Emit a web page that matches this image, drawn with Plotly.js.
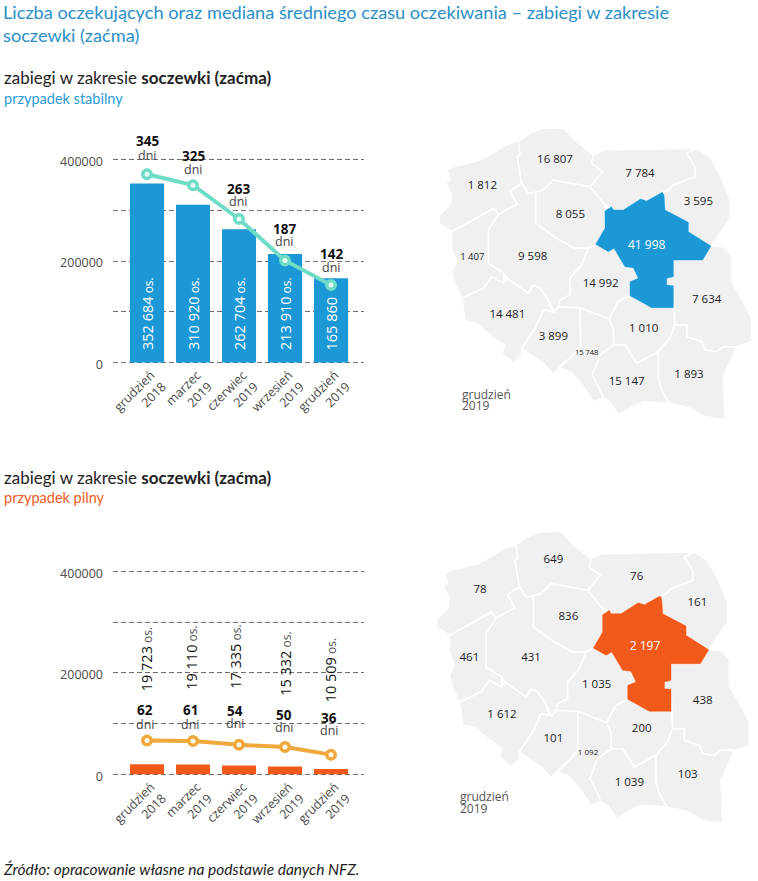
<!DOCTYPE html>
<html><head><meta charset="utf-8">
<script src="https://cdn.plot.ly/plotly-3.0.1.min.js"></script>
<style>html,body{margin:0;padding:0;background:#fff}</style></head>
<body><div id="chart" style="width:758px;height:881px"></div>
<script>
// ---- data ----
const categories = ['grudzień<br>2018','marzec<br>2019','czerwiec<br>2019','wrzesień<br>2019','grudzień<br>2019'];
const stablePeople = [352684,310920,262704,213910,165860];
const stableDays = [345,325,263,187,142];
const urgentPeople = [19723,19110,17335,15332,10509];
const urgentDays = [62,61,54,50,36];
const stablePeopleText = ['352 684','310 920','262 704','213 910','165 860'];
const stablePeopleUnit = [' os.',' os.',' os.',' os.',''];
const urgentPeopleText = ['19 723','19 110','17 335','15 332','10 509'];
const yTicks = [0,100000,200000,300000,400000];
const yTickText = ['0','','200000','','400000'];

const regionNames = ['zachodniopomorskie','pomorskie','warminsko','podlaskie','kujawsko','wielkopolskie','lubuskie','dolnoslaskie','opolskie','lodzkie','slaskie','swietokrzyskie','lubelskie','malopolskie','podkarpackie','mazowieckie'];
const stableRegionText = ['1 812','16 807','7 784','3 595','8 055','9 598','1 407','14 481','3 899','14 992','15 748','1 010','7 634','15 147','1 893','41 998'];
const urgentRegionText = ['78','649','76','161','836','431','461','1 612','101','1 035','1 092','200','438','1 039','103','2 197'];

// region outlines in map units
const zachodniopomorskie = [[50,165],[70,155],[150,135],[230,90],[265,78],[270,120],[262,125],[275,205],[240,228],[262,268],[205,298],[190,280],[130,315],[65,350],[27,325],[28,300],[60,270],[65,240],[45,200],[60,195]];
const pomorskie = [[265,78],[300,55],[335,40],[400,38],[440,80],[490,120],[485,145],[518,170],[480,215],[425,205],[370,195],[340,225],[317,232],[295,235],[275,205],[262,125],[270,120]];
const warminsko = [[490,120],[520,105],[800,100],[770,115],[795,155],[795,185],[730,210],[715,225],[697,232],[650,258],[632,252],[580,285],[550,285],[545,275],[525,270],[480,215],[518,170],[485,145]];
const podlaskie = [[800,100],[840,125],[870,180],[900,250],[900,310],[880,340],[843,393],[775,350],[775,322],[705,285],[702,240],[697,232],[715,225],[730,210],[795,185],[795,155],[770,115]];
const kujawsko = [[317,232],[340,225],[370,195],[425,205],[480,215],[525,270],[525,340],[497,388],[475,400],[435,400],[380,370],[317,325]];
const wielkopolskie = [[240,228],[275,205],[295,235],[317,232],[317,325],[380,370],[435,400],[475,400],[455,450],[420,490],[420,540],[390,555],[385,575],[372,592],[355,555],[330,520],[310,510],[295,535],[232,490],[222,475],[175,445],[175,345],[205,298],[262,268]];
const lubuskie = [[65,350],[130,315],[190,280],[205,298],[175,345],[175,445],[222,475],[222,505],[185,485],[160,520],[95,550],[75,510],[65,470],[80,440],[65,400]];
const dolnoslaskie = [[95,550],[160,520],[185,485],[222,505],[232,490],[295,535],[310,510],[330,520],[355,555],[365,590],[340,585],[315,640],[275,700],[275,720],[250,745],[215,715],[225,690],[180,660],[140,625],[105,620],[100,580]];
const opolskie = [[340,585],[365,590],[372,592],[385,575],[450,578],[452,690],[430,720],[400,745],[370,778],[340,745],[275,700],[315,640]];
const lodzkie = [[475,400],[497,388],[535,410],[552,400],[585,455],[610,458],[625,490],[600,500],[600,542],[565,560],[537,612],[450,578],[385,575],[390,555],[420,540],[420,490],[455,450]];
const slaskie = [[450,578],[537,612],[550,640],[552,690],[510,720],[487,780],[510,825],[520,850],[490,860],[450,800],[420,770],[390,760],[430,720],[452,690]];
const swietokrzyskie = [[537,612],[565,560],[600,542],[665,578],[732,578],[735,630],[720,670],[685,710],[620,745],[585,690],[552,690],[550,640]];
const lubelskie = [[730,435],[818,435],[843,393],[880,395],[905,420],[905,500],[945,570],[965,610],[965,680],[920,695],[880,695],[860,710],[825,705],[815,680],[770,665],[770,630],[735,630],[732,578],[730,512],[710,510],[710,490],[730,485]];
const malopolskie = [[487,780],[510,720],[552,690],[585,690],[620,745],[685,710],[685,790],[695,825],[718,865],[640,860],[600,880],[565,900],[540,860],[520,850],[510,825]];
const podkarpackie = [[685,710],[720,670],[735,630],[770,630],[770,665],[815,680],[825,705],[860,710],[880,695],[920,695],[880,785],[885,915],[825,905],[780,880],[718,865],[695,825],[685,790]];
const mazowieckie = [[525,288],[545,275],[550,285],[580,285],[632,252],[650,258],[697,232],[702,240],[705,285],[775,322],[775,350],[843,393],[818,435],[730,435],[730,485],[710,490],[710,510],[730,512],[730,578],[665,578],[600,542],[600,500],[625,490],[610,458],[585,455],[552,400],[535,410],[497,388],[525,340]];
const regionShapes = [zachodniopomorskie,pomorskie,warminsko,podlaskie,kujawsko,wielkopolskie,lubuskie,dolnoslaskie,opolskie,lodzkie,slaskie,swietokrzyskie,lubelskie,malopolskie,podkarpackie,mazowieckie];

// ---- label placement (not data) ----
const stableLabelX = [157,375,630,805,421,308,127,232,370,512,470,641,830,590,777,650];
const stableLabelY = [212,135,178,262,300,427,428,600,666,507,713,642,556,800,780,393];
const stableLabelSize = [11.5,11.5,11.5,11.5,11.5,11.5,9.5,11.5,11.5,11.5,7.5,11.5,11.5,11.5,11.5,12];
const urgentLabelX = [157,377,627,809,422,310,125,223,377,507,481,642,825,605,780,652];
const urgentLabelY = [214,124,175,253,295,417,419,589,661,499,704,631,547,792,769,386];
const urgentLabelSize = [11.5,11.5,11.5,11.5,11.5,11.5,11.5,11.5,11.5,11.5,8,11.5,11.5,11.5,11.5,12];
const stableDayShift = [[33,19],[29,16],[30,17],[31,19],[31,18]];
const urgentDayShift = [[30,16],[31,17],[34,21],[32,20],[37,24]];
const urgentDayDx = [-2,-3,-4,-1,-2];
const stableDayDx = [0,0,-1,-1,0];
const urgentPeopleBase = [81,82.5,83.5,76.5,70];
const urgentPeopleDx = [-1,-1,-3,1,-1];

// ---- layout helpers ----
const W = 758, H = 881;
const px = x => x / W, py = y => 1 - y / H;
const FONT = '"Open Sans", sans-serif', HEAD = 'Lato, "Open Sans", sans-serif';
const BLUE = '#1b98d5', ORANGE = '#f15a1a', TEAL = '#6fdcc6', AMBER = '#f0a83c';
const GREY = '#f0f0f1';
const dayAxisMax = 372;
const catRange = [-0.739, 4.717];
const pad = 2; // pixels kept beyond 0 and 400000 so the end gridlines are drawn
const yPerPx = 400000 / 203, dayPerPx = dayAxisMax / 203;

function chartAxes(xName, yName, y2Name, yBase) {
  const o = {};
  const dom = [py(yBase + pad), py(yBase - 203 - pad)];
  o[xName] = {domain:[px(113),px(364)], range:catRange, tickvals:[0,1,2,3,4], ticktext:categories,
    tickangle:-45, tickfont:{family:FONT,size:12.5,color:'#4a4a4a'}, showgrid:false, zeroline:false, showline:false, ticks:'', ticklabelshift:4, ticklabelstandoff:0, anchor:yName.replace('axis','')};
  o[yName] = {domain:dom, range:[-pad*yPerPx,400000+pad*yPerPx], tickvals:yTicks, ticktext:yTickText,
    tickfont:{family:FONT,size:12.5,color:'#4a4a4a'}, gridcolor:'#6e6e6e', griddash:'5px,3px', gridwidth:1, zeroline:false, showline:false, ticks:'', ticklabelstandoff:9, ticklabelshift:2, anchor:xName.replace('axis','')};
  o[y2Name] = {domain:dom, range:[-pad*dayPerPx,dayAxisMax+pad*dayPerPx], overlaying:yName.replace('axis',''), visible:false, anchor:xName.replace('axis','')};
  return o;
}
const mapX = (a,b)=>({domain:[px(a),px(b)], range:[0,984], visible:false, fixedrange:true});
const mapY = (a,b)=>({domain:[py(b),py(a)], range:[930,0], visible:false, fixedrange:true});

const traces = [];
function combo(xa, ya, ya2, people, days, color, lineColor, innerColor) {
  traces.push({type:'bar', x:[0,1,2,3,4], y:people, xaxis:xa, yaxis:ya, width:0.74, marker:{color:color,line:{width:0}}, showlegend:false});
  traces.push({type:'scatter', mode:'lines+markers', x:[0,1,2,3,4], y:days, xaxis:xa, yaxis:ya2,
    line:{color:lineColor,width:4}, marker:{size:8.5,color:innerColor,line:{color:lineColor,width:3.5}}, showlegend:false, cliponaxis:false});
}
function map(xa, ya, highlight, text, lx, ly, sizes) {
  regionShapes.forEach((shape,i)=>{
    const isHi = i === regionShapes.length-1;
    traces.push({type:'scatter', mode:'lines', x:shape.map(p=>p[0]).concat(shape[0][0]), y:shape.map(p=>p[1]).concat(shape[0][1]),
      xaxis:xa, yaxis:ya, fill:'toself', fillcolor:isHi?highlight:GREY, line:{color:isHi?highlight:'#ffffff',width:isHi?0.5:1.5}, name:regionNames[i], showlegend:false});
  });
  traces.push({type:'scatter', mode:'text', x:lx, y:ly, text:text, xaxis:xa, yaxis:ya, textposition:'middle center',
    textfont:{family:FONT,size:sizes,color:text.map((_,i)=>i===text.length-1?'#ffffff':'#1c1c1c')}, showlegend:false});
}
combo('x','y','y2',stablePeople,stableDays,BLUE,TEAL,'#e6faf5');
combo('x2','y3','y4',urgentPeople,urgentDays,ORANGE,AMBER,'#fdf6ea');
map('x3','y5',BLUE,stableRegionText,stableLabelX,stableLabelY,stableLabelSize);
map('x4','y6',ORANGE,urgentRegionText,urgentLabelX,urgentLabelY,urgentLabelSize);

const ann = [];
const pageText = (x,y,text,size,color,family)=>ann.push({xref:'paper',yref:'paper',x:px(x-2),y:py(y),xanchor:'left',yanchor:'middle',text:text,showarrow:false,align:'left',font:{family:family||HEAD,size:size,color:color}});
pageText(3,12,'Liczba oczekujących oraz mediana średniego czasu oczekiwania – zabiegi w zakresie',18.2,'#2a8fc6');
pageText(3,35,'soczewki (zaćma)',18.2,'#2a8fc6');
pageText(4,78,'zabiegi w zakresie <b>soczewki (zaćma)</b>',17,'#222');
pageText(4,98,'przypadek stabilny',14.5,'#2a9bd6');
pageText(4,477,'zabiegi w zakresie <b>soczewki (zaćma)</b>',17,'#222');
pageText(4,497,'przypadek pilny',14.5,ORANGE);
pageText(3,869,'<i>Źródło: opracowanie własne na podstawie danych NFZ.</i>',15.5,'#1c1c1c');
pageText(462,394,'grudzień',12,'#555',FONT);
pageText(462,406,'2019',12,'#555',FONT);
pageText(460,796,'grudzień',12,'#555',FONT);
pageText(460,808,'2019',12,'#555',FONT);

function dayLabels(xr, yr, days, shifts, dx) {
  days.forEach((d,i)=>{
    ann.push({xref:xr,yref:yr,x:i,y:d,xshift:dx[i],yshift:shifts[i][0],text:'<b>'+d+'</b>',showarrow:false,yanchor:'middle',font:{family:FONT,size:13.5,color:'#111'}});
    ann.push({xref:xr,yref:yr,x:i,y:d,xshift:dx[i],yshift:shifts[i][1],text:'dni',showarrow:false,yanchor:'middle',font:{family:FONT,size:12.5,color:'#444'}});
  });
}
dayLabels('x','y2',stableDays,stableDayShift,stableDayDx);
dayLabels('x2','y4',urgentDays,urgentDayShift,urgentDayDx);
stablePeopleText.forEach((t,i)=>ann.push({xref:'x',yref:'y',x:i,y:0,yshift:10,textangle:-90,yanchor:'bottom',xanchor:'center',showarrow:false,
  text:t+'<span style="font-size:12px">'+stablePeopleUnit[i]+'</span>',font:{family:FONT,size:14.5,color:'#ffffff'}}));
urgentPeopleText.forEach((t,i)=>ann.push({xref:'x2',yref:'y3',x:i,y:0,xshift:urgentPeopleDx[i],yshift:urgentPeopleBase[i],textangle:-90,yanchor:'bottom',xanchor:'center',showarrow:false,
  text:t+'<span style="font-size:12px;color:#555"> os.</span>',font:{family:FONT,size:14.5,color:'#111'}}));

const layout = Object.assign({
  width:W, height:H, margin:{l:0,r:0,t:0,b:0}, paper_bgcolor:'#fff', plot_bgcolor:'rgba(0,0,0,0)', showlegend:false, hovermode:false, barmode:'overlay',
  annotations:ann,
  xaxis3:mapX(430,758), yaxis5:mapY(115,425), xaxis4:mapX(427.7,755.7), yaxis6:mapY(518.7,828.7)
}, chartAxes('xaxis','yaxis','yaxis2',362.5), chartAxes('xaxis2','yaxis3','yaxis4',774.3));
layout.xaxis3.anchor='y5'; layout.yaxis5.anchor='x3'; layout.xaxis4.anchor='y6'; layout.yaxis6.anchor='x4';
Plotly.newPlot('chart', traces, layout, {staticPlot:true, displayModeBar:false});
</script></body></html>
